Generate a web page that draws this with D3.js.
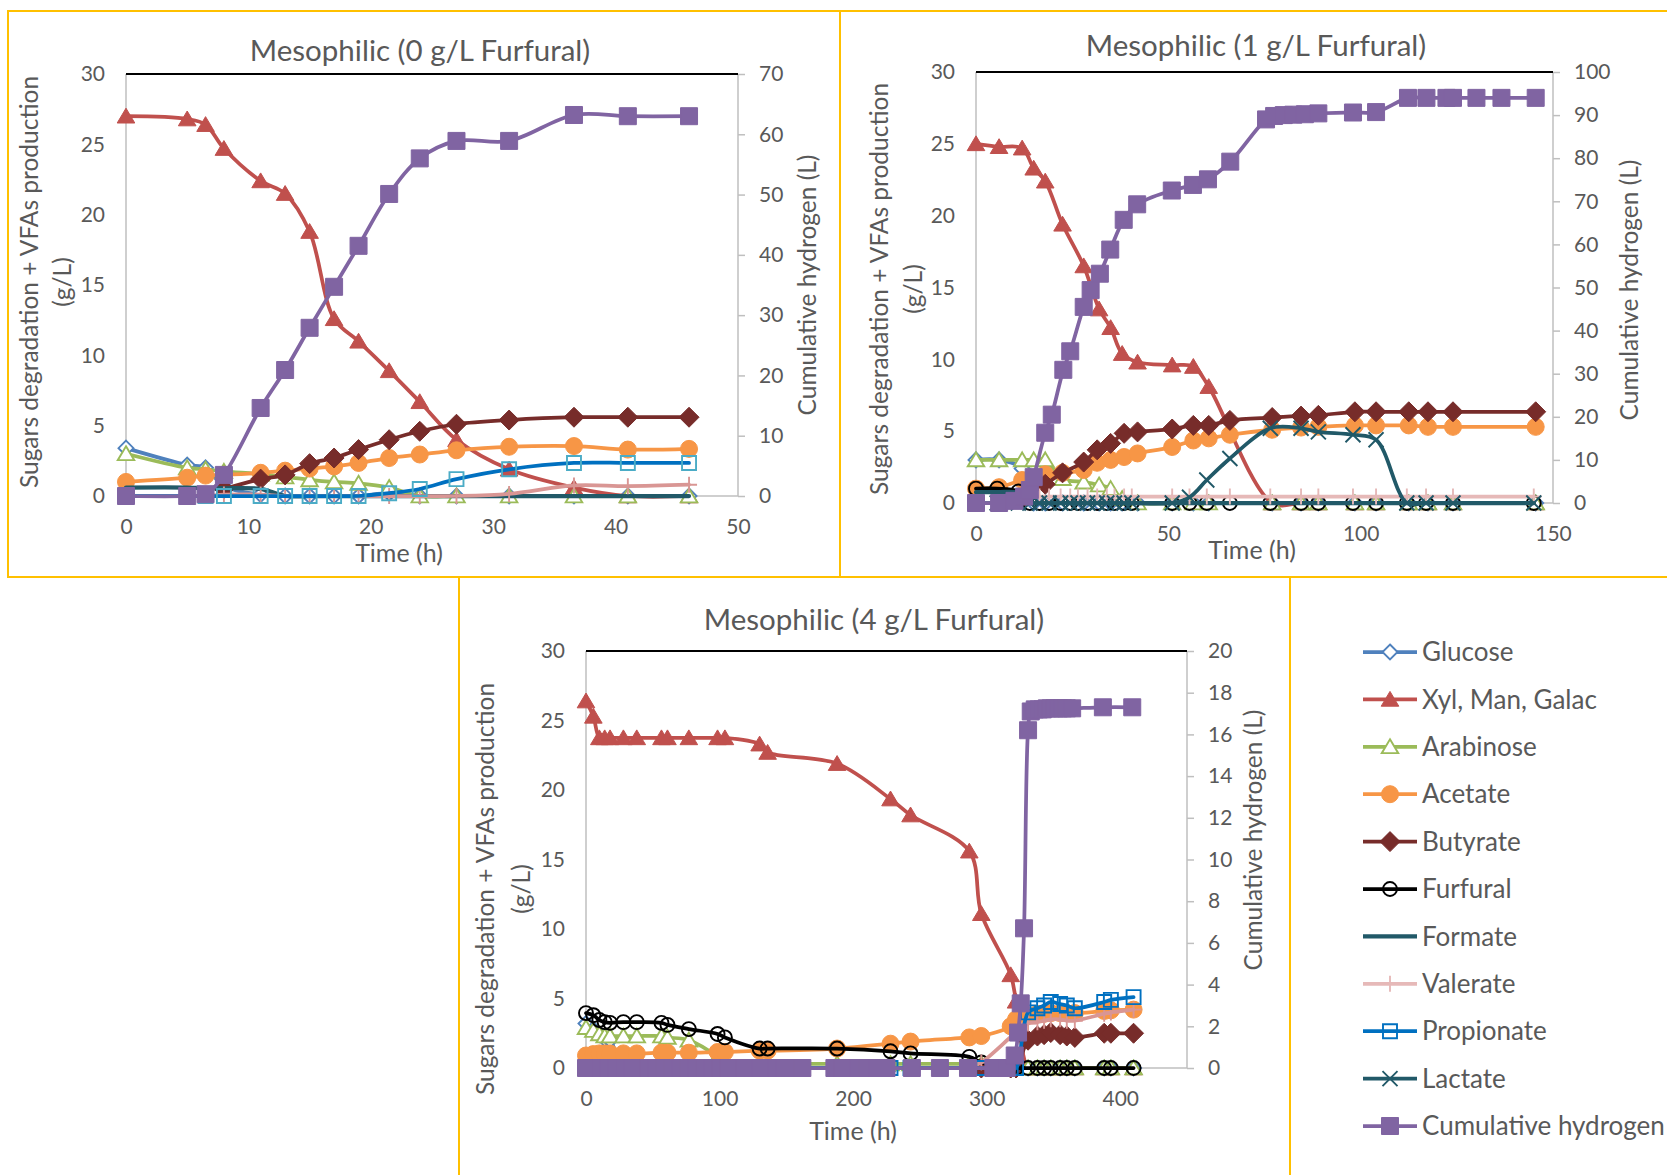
<!DOCTYPE html>
<html lang="en">
<head>
<meta charset="utf-8">
<title>Mesophilic furfural runs</title>
<script src="https://d3js.org/d3.v7.min.js"></script>
<style>
  body { margin: 0; background: #fff; }
  svg text { font-family: Lato, "Open Sans", sans-serif; fill: #595959; }
</style>
</head>
<body>
<svg id="fig" width="1667" height="1175"></svg>
<script>
// ---- data: chart 1, 0 g/L furfural ----
const c1Time = [0, 5, 6.5, 8, 11, 13, 15, 17, 19, 21.5, 24, 27, 31.3, 36.6, 41, 46];
const c1Glucose = [3.4, 2.2, 2.0, 0.7, 0.1, 0, 0, 0, 0, 0.2, 0, 0, 0, 0, 0, 0];
const c1Xyl = [27.0, 26.8, 26.4, 24.7, 22.4, 21.5, 18.8, 12.6, 11.0, 8.9, 6.7, 4.0, 1.9, 0.6, 0, 0];
const c1Arabinose = [3.0, 2.0, 1.9, 1.75, 1.55, 1.35, 1.15, 1.0, 0.9, 0.6, 0, 0, 0, 0, 0, 0];
const c1Acetate = [1.0, 1.3, 1.45, 1.5, 1.65, 1.8, 1.95, 2.1, 2.35, 2.7, 2.95, 3.25, 3.5, 3.55, 3.3, 3.35];
const c1Butyrate = [null, null, null, 0.5, 1.2, 1.5, 2.3, 2.7, 3.3, 4.0, 4.6, 5.1, 5.4, 5.6, 5.6, 5.6];
const c1Formate = [0.6, 0.6, 0.55, 0.55, 0.5, 0, 0, 0, 0, 0, 0, 0, 0, 0, 0, 0];
const c1Valerate = [0, 0, 0, 0.1, 0.1, 0, 0, 0, 0, 0, 0, 0, 0.15, 0.75, 0.7, 0.8];
const c1Propionate = [0, 0, 0, 0, 0, 0, 0, 0, 0, 0.2, 0.5, 1.2, 1.9, 2.35, 2.35, 2.35];
const c1H2 = [0, 0, 0.3, 3.5, 14.6, 20.9, 27.9, 34.7, 41.5, 50.1, 56.0, 58.9, 58.9, 63.2, 63.0, 63.0];

// ---- data: chart 2, 1 g/L furfural ----
const c2SugarTime = [0, 6, 12, 15, 18, 22.5, 28, 32, 35, 38, 42, 51, 56.5, 60.5, 77, 84.5, 89, 98.5, 104, 112.5, 117.5, 124, 145.5];
const c2Glucose = [3.0, 3.0, 2.4, 0, 0, 0, 0, 0, 0, 0, 0, 0, 0, 0, 0, 0, 0, 0, 0, 0, 0, 0, 0];
const c2Xyl = [25.0, 24.8, 24.7, 23.3, 22.4, 19.4, 16.5, 13.5, 12.2, 10.4, 9.8, 9.6, 9.5, 8.1, 0, 0, 0, 0, 0, 0, 0, 0, 0];
const c2Arabinose = [3.0, 3.0, 3.0, 3.0, 3.0, 1.7, 1.45, 1.25, 1.0, 0.3, 0, 0, 0, 0, 0, 0, 0, 0, 0, 0, 0, 0, 0];
const c2VfaTime = [0, 6, 12, 18, 22.5, 28, 31.5, 35, 38.5, 42, 51, 56.5, 60.5, 66, 77, 84.5, 89, 98.5, 104, 112.5, 117.5, 124, 145.5];
const c2Acetate = [1.0, 1.1, 1.6, 2.0, 2.1, 2.3, 2.8, 3.0, 3.2, 3.45, 3.9, 4.35, 4.5, 4.75, 5.1, 5.25, 5.3, 5.4, 5.4, 5.4, 5.3, 5.3, 5.3];
const c2Butyrate = [null, null, 0.3, 1.3, 2.1, 2.85, 3.7, 4.15, 4.85, 4.95, 5.15, 5.4, 5.4, 5.75, 5.95, 6.05, 6.1, 6.35, 6.35, 6.35, 6.35, 6.35, 6.35];
const c2MinorTime = [0, 5.5, 11, 14, 16.5, 19, 22, 24.5, 26.5, 29, 31.5, 34, 36, 38.5, 40.5, 51, 55.5, 60, 66, 76.5, 84.5, 89, 98, 104, 112, 117, 124, 145];
const c2Furfural = [1.0, 1.0, 0.8, 0, 0, 0, 0, 0, 0, 0, 0, 0, 0, 0, 0, 0, 0, 0, 0, 0, 0, 0, 0, 0, 0, 0, 0, 0];
const c2Formate = [0.75, 0.75, 0.7, 0, 0, 0, 0, 0, 0, 0, 0, 0, 0, 0, 0, 0, 0, 0, 0, 0, 0, 0, 0, 0, 0, 0, 0, 0];
const c2Valerate = [null, null, null, 0.45, 0.45, 0.45, 0.45, 0.45, 0.45, 0.45, 0.45, 0.45, 0.45, 0.45, 0.45, 0.45, 0.45, 0.45, 0.45, 0.45, 0.45, 0.45, 0.45, 0.45, 0.45, 0.45, 0.45, 0.45];
const c2Lactate = [0, 0, 0, 0, 0, 0, 0, 0, 0, 0, 0, 0, 0, 0, 0, 0, 0.4, 1.6, 3.1, 5.2, 5.2, 4.95, 4.75, 4.4, 0, 0, 0, 0];
const c2GasTime = [0, 6, 10, 12.5, 14, 15, 18, 19.7, 22.7, 24.5, 28, 29.8, 32.2, 34.9, 38.4, 41.9, 50.9, 56.4, 60.3, 66.1, 75.4, 77.5, 80, 82.5, 85.5, 89, 98, 104, 112.3, 117.1, 122.3, 124, 130.1, 136.6, 145.5];
const c2H2 = [0, 0, 0.5, 1.5, 3, 6, 16.3, 20.5, 30.9, 35.2, 45.5, 49.4, 53.2, 58.8, 65.7, 69.3, 72.5, 73.8, 75.1, 79.2, 89.0, 89.8, 90.0, 90.1, 90.2, 90.4, 90.6, 90.7, 94, 94, 94, 94, 94, 94, 94];

// ---- data: chart 3, 4 g/L furfural ----
const c3Time = [0, 5.5, 10, 14, 18, 28, 38, 56.5, 61, 77, 98.5, 104, 130, 136, 188, 228, 243, 287, 296, 318, 322, 331, 338, 343, 348, 355, 360, 366, 388, 393, 410];
const c3Glucose = [3.2, 2.8, 2.4, 2.1, 2.0, 0, 0, 0, 0, 0, 0, 0, 0, 0, 0, 0, 0, 0, 0, 0, 0, 0, 0, 0, 0, 0, 0, 0, 0, 0, 0];
const c3Xyl = [26.4, 25.3, 23.75, 23.75, 23.75, 23.75, 23.75, 23.75, 23.75, 23.75, 23.75, 23.75, 23.3, 22.7, 21.9, 19.35, 18.2, 15.6, 11.1, 6.7, 4.8, 0, 0, 0, 0, 0, 0, 0, 0, 0, 0];
const c3Arabinose = [2.9, 2.7, 2.45, 2.3, 2.3, 2.3, 2.3, 2.3, 2.2, 2.0, 0.8, 0.3, 0.3, 0.3, 0.3, 0.3, 0.3, 0.3, 0.3, 0, 0, 0, 0, 0, 0, 0, 0, 0, 0, 0, 0];
const c3Acetate = [0.9, 1.0, 1.05, 1.05, 1.05, 1.05, 1.05, 1.1, 1.1, 1.1, 1.15, 1.15, 1.25, 1.25, 1.4, 1.75, 1.9, 2.2, 2.3, 3.0, 3.5, 3.8, 3.9, 3.9, 3.95, 3.95, 3.95, 3.95, 4.1, 4.15, 4.2];
const c3Butyrate = [null, null, null, null, null, null, null, null, null, null, null, null, null, null, null, null, null, null, 0, 0, 0, 2.0, 2.3, 2.4, 2.55, 2.4, 2.3, 2.2, 2.5, 2.5, 2.5];
const c3Furfural = [3.95, 3.8, 3.45, 3.3, 3.25, 3.3, 3.3, 3.25, 3.1, 2.8, 2.45, 2.2, 1.4, 1.4, 1.4, 1.2, 1.05, 0.8, 0.4, 0, 0, 0, 0, 0, 0, 0, 0, 0, 0, 0, 0];
const c3Valerate = [null, null, null, null, null, null, null, null, null, null, null, null, null, null, null, null, null, 0, 0.4, null, null, 3.2, 3.3, 3.4, 3.5, 3.5, 3.4, 3.4, 3.9, 4.0, 4.2];
const c3Propionate = [0, 0, 0, 0, 0, 0, 0, 0, 0, 0, 0, 0, 0, 0, 0, 0, 0, 0, 0, 0, 0, 4.0, 4.3, 4.5, 4.75, 4.6, 4.5, 4.3, 4.75, 4.9, 5.1];
const c3GasTime = [0, 6, 11, 17, 23, 29, 35, 41, 47, 53, 59, 65, 71, 77, 83, 89, 95, 101, 107, 113, 119, 125, 131, 137, 143, 149, 155, 162,
  186, 192, 198, 204, 211, 218, 225, 244, 265, 286, 305, 315, 321, 323.5, 325.5, 328, 331, 333,
  336, 339, 342, 345, 348, 351, 354, 357, 360, 364, 387, 409];
const c3H2 = [0, 0, 0, 0, 0, 0, 0, 0, 0, 0, 0, 0, 0, 0, 0, 0, 0, 0, 0, 0, 0, 0, 0, 0, 0, 0, 0, 0,
  0, 0, 0, 0, 0, 0, 0, 0, 0, 0, 0, 0, 0.6, 1.7, 3.1, 6.7, 16.2, 17.1,
  17.2, 17.2, 17.2, 17.25, 17.25, 17.25, 17.25, 17.25, 17.25, 17.25, 17.3, 17.3];

// legend order = drawing order
const seriesNames = ["Glucose", "Xyl, Man, Galac", "Arabinose", "Acetate", "Butyrate", "Furfural",
  "Formate", "Valerate", "Propionate", "Lactate", "Cumulative hydrogen"];

const styles = {
  "Glucose":             {color: "#4F81BD", marker: "diamond", size: 15, fill: "#fff"},
  "Xyl, Man, Galac":     {color: "#C0504D", marker: "triangle", size: 16, fill: "#C0504D"},
  "Arabinose":           {color: "#9BBB59", marker: "triangle", size: 15, fill: "#fff"},
  "Acetate":             {color: "#F79646", marker: "circle", size: 17, fill: "#F79646"},
  "Butyrate":            {color: "#772C2A", marker: "diamond", size: 20, fill: "#772C2A"},
  "Furfural":            {color: "#000000", marker: "circle", size: 14, fill: "none"},
  "Formate":             {color: "#215968", marker: null},
  "Valerate":            {color: "#E6B9B8", marker: "plus", size: 16, fill: "none"},
  "Propionate":          {color: "#0070C0", marker: "square", size: 14, fill: "none"},
  "Lactate":             {color: "#215968", marker: "x", size: 15, fill: "none"},
  "Cumulative hydrogen": {color: "#8064A2", marker: "square", size: 17, fill: "#8064A2"}
};

const charts = [
  {
    title: "Mesophilic (0 g/L Furfural)", titleX: 420, titleY: 61,
    box: [8, 11, 832, 566],
    plot: {l: 126, r: 738, t: 74, b: 496},
    xMax: 50, xTicks: [0, 10, 20, 30, 40, 50],
    h2Max: 70, h2Ticks: d3.range(0, 71, 10),
    timeX: 399, timeY: 562, leftTitleX: [38, 71], leftTitleY: 282, rightTitleX: 816, rightTitleY: 285,
    override: {"Propionate": {markerColor: "#4BACC6"}, "Valerate": {color: "#D99694"}},
    series: [
      ["Glucose", c1Time, c1Glucose], ["Xyl, Man, Galac", c1Time, c1Xyl], ["Arabinose", c1Time, c1Arabinose],
      ["Acetate", c1Time, c1Acetate], ["Butyrate", c1Time, c1Butyrate], ["Formate", c1Time, c1Formate],
      ["Valerate", c1Time, c1Valerate], ["Propionate", c1Time, c1Propionate], ["Cumulative hydrogen", c1Time, c1H2]
    ]
  },
  {
    title: "Mesophilic (1 g/L Furfural)", titleX: 1256, titleY: 56,
    box: [840, 11, 830, 566],
    plot: {l: 976, r: 1553, t: 72, b: 503},
    xMax: 150, xTicks: [0, 50, 100, 150],
    h2Max: 100, h2Ticks: d3.range(0, 101, 10),
    timeX: 1252, timeY: 559, leftTitleX: [888, 922], leftTitleY: 289, rightTitleX: 1638, rightTitleY: 290,
    override: {},
    series: [
      ["Glucose", c2SugarTime, c2Glucose], ["Xyl, Man, Galac", c2SugarTime, c2Xyl], ["Arabinose", c2SugarTime, c2Arabinose],
      ["Acetate", c2VfaTime, c2Acetate], ["Butyrate", c2VfaTime, c2Butyrate], ["Furfural", c2MinorTime, c2Furfural],
      ["Formate", c2MinorTime, c2Formate], ["Valerate", c2MinorTime, c2Valerate], ["Lactate", c2MinorTime, c2Lactate],
      ["Cumulative hydrogen", c2GasTime, c2H2]
    ]
  },
  {
    title: "Mesophilic (4 g/L Furfural)", titleX: 874, titleY: 630,
    box: [459, 577, 831, 610],
    plot: {l: 586, r: 1187, t: 651, b: 1068},
    xMax: 450, xTicks: [0, 100, 200, 300, 400],
    h2Max: 20, h2Ticks: d3.range(0, 21, 2),
    timeX: 853, timeY: 1140, leftTitleX: [494, 530], leftTitleY: 889, rightTitleX: 1262, rightTitleY: 840,
    override: {"Valerate": {color: "#D99694"}},
    series: [
      ["Glucose", c3Time, c3Glucose], ["Xyl, Man, Galac", c3Time, c3Xyl], ["Arabinose", c3Time, c3Arabinose],
      ["Acetate", c3Time, c3Acetate], ["Butyrate", c3Time, c3Butyrate], ["Furfural", c3Time, c3Furfural],
      ["Valerate", c3Time, c3Valerate], ["Propionate", c3Time, c3Propionate],
      ["Cumulative hydrogen", c3GasTime, c3H2]
    ]
  }
];

const svg = d3.select("#fig");

function markerPath(type, s) {
  const h = s / 2;
  switch (type) {
    case "diamond": return `M0,${-h}L${h},0L0,${h}L${-h},0Z`;
    case "triangle": return `M0,${-h}L${h * 1.1},${h * 0.85}L${-h * 1.1},${h * 0.85}Z`;
    case "square": return `M${-h},${-h}H${h}V${h}H${-h}Z`;
    case "circle": return `M${h},0A${h},${h} 0 1,1 ${-h},0A${h},${h} 0 1,1 ${h},0Z`;
    case "x": return `M${-h},${-h}L${h},${h}M${h},${-h}L${-h},${h}`;
    case "plus": return `M0,${-h}V${h}M${-h},0H${h}`;
  }
  return "";
}

function drawMarkers(g, pts, st, px, py) {
  if (!st.marker) return;
  const open = st.fill === "none" || st.fill === "#fff";
  g.selectAll(null).data(pts).enter().append("path")
    .attr("transform", d => `translate(${px(d)},${py(d)})`)
    .attr("d", markerPath(st.marker, st.size))
    .attr("fill", st.fill)
    .attr("stroke", st.markerColor || st.color)
    .attr("stroke-width", open ? 1.9 : 1);
}

function drawChart(cfg) {
  const g = svg.append("g");
  const p = cfg.plot;

  g.append("rect")
    .attr("x", cfg.box[0]).attr("y", cfg.box[1])
    .attr("width", cfg.box[2]).attr("height", cfg.box[3])
    .attr("fill", "none").attr("stroke", "#FFC000").attr("stroke-width", 2);

  const x = d3.scaleLinear().domain([0, cfg.xMax]).range([p.l, p.r]);
  const y = d3.scaleLinear().domain([0, 30]).range([p.b, p.t]);
  const y2 = d3.scaleLinear().domain([0, cfg.h2Max]).range([p.b, p.t]);

  // axis lines
  g.append("line").attr("x1", p.l).attr("x2", p.l).attr("y1", p.t).attr("y2", p.b)
    .attr("stroke", "#BFBFBF").attr("stroke-width", 1.5);
  g.append("line").attr("x1", p.r).attr("x2", p.r).attr("y1", p.t).attr("y2", p.b)
    .attr("stroke", "#BFBFBF").attr("stroke-width", 1.5);
  g.append("line").attr("x1", p.l).attr("x2", p.r).attr("y1", p.b).attr("y2", p.b)
    .attr("stroke", "#BFBFBF").attr("stroke-width", 1.5);
  g.append("line").attr("x1", p.l).attr("x2", p.r).attr("y1", p.t).attr("y2", p.t)
    .attr("stroke", "#000").attr("stroke-width", 2);

  const left = g.append("g").attr("transform", `translate(${p.l},0)`)
    .call(d3.axisLeft(y).tickValues(d3.range(0, 31, 5)).tickSize(0).tickPadding(21));
  const right = g.append("g").attr("transform", `translate(${p.r},0)`)
    .call(d3.axisRight(y2).tickValues(cfg.h2Ticks).tickSize(7).tickPadding(14));
  const bottom = g.append("g").attr("transform", `translate(0,${p.b})`)
    .call(d3.axisBottom(x).tickValues(cfg.xTicks).tickSize(0).tickPadding(23));
  [left, right, bottom].forEach(a => {
    a.select(".domain").remove();
    a.attr("font-family", null).attr("font-size", null);
    a.selectAll("text").style("font-size", "21px");
    a.selectAll("line").attr("stroke", "#BFBFBF").attr("stroke-width", 1.5);
  });

  // texts
  g.append("text").attr("x", cfg.titleX).attr("y", cfg.titleY)
    .attr("text-anchor", "middle").style("font-size", "29.5px").text(cfg.title);
  g.append("text").attr("x", cfg.timeX).attr("y", cfg.timeY)
    .attr("text-anchor", "middle").style("font-size", "25px").text("Time (h)");
  g.append("text").attr("transform", `translate(${cfg.leftTitleX[0]},${cfg.leftTitleY}) rotate(-90)`)
    .attr("text-anchor", "middle").style("font-size", "24.5px").text("Sugars degradation + VFAs production");
  g.append("text").attr("transform", `translate(${cfg.leftTitleX[1]},${cfg.leftTitleY}) rotate(-90)`)
    .attr("text-anchor", "middle").style("font-size", "24.5px").text("(g/L)");
  g.append("text").attr("transform", `translate(${cfg.rightTitleX},${cfg.rightTitleY}) rotate(-90)`)
    .attr("text-anchor", "middle").style("font-size", "24.5px").text("Cumulative hydrogen (L)");

  // series
  const curve = d3.curveCatmullRom.alpha(0.5);
  cfg.series.forEach(([name, t, v]) => {
    const st = Object.assign({}, styles[name], cfg.override[name] || {});
    const yy = name === "Cumulative hydrogen" ? y2 : y;
    const pts = t.map((tt, i) => [tt, v[i]]).filter(d => d[1] !== null);
    const line = d3.line().x(d => x(d[0])).y(d => yy(d[1])).curve(curve);
    g.append("path").attr("d", line(pts))
      .attr("fill", "none").attr("stroke", st.color)
      .attr("stroke-width", name === "Formate" ? 4.25 : 3.75)
      .attr("stroke-linejoin", "round").attr("stroke-linecap", "round");
    drawMarkers(g, pts, st, d => x(d[0]), d => yy(d[1]));
  });
}

charts.forEach(drawChart);

// legend
const legendY = d3.scalePoint().domain(seriesNames).range([652, 1126]);
const lg = svg.append("g");
seriesNames.forEach(name => {
  const st = styles[name];
  const yy = legendY(name);
  lg.append("line").attr("x1", 1363).attr("x2", 1417).attr("y1", yy).attr("y2", yy)
    .attr("stroke", st.color).attr("stroke-width", name === "Formate" ? 4.25 : 3.75);
  drawMarkers(lg, [[0, 0]], st, () => 1390, () => yy);
  lg.append("text").attr("x", 1422).attr("y", yy).attr("dy", "0.35em")
    .style("font-size", "26px").text(name);
});
</script>
</body>
</html>
